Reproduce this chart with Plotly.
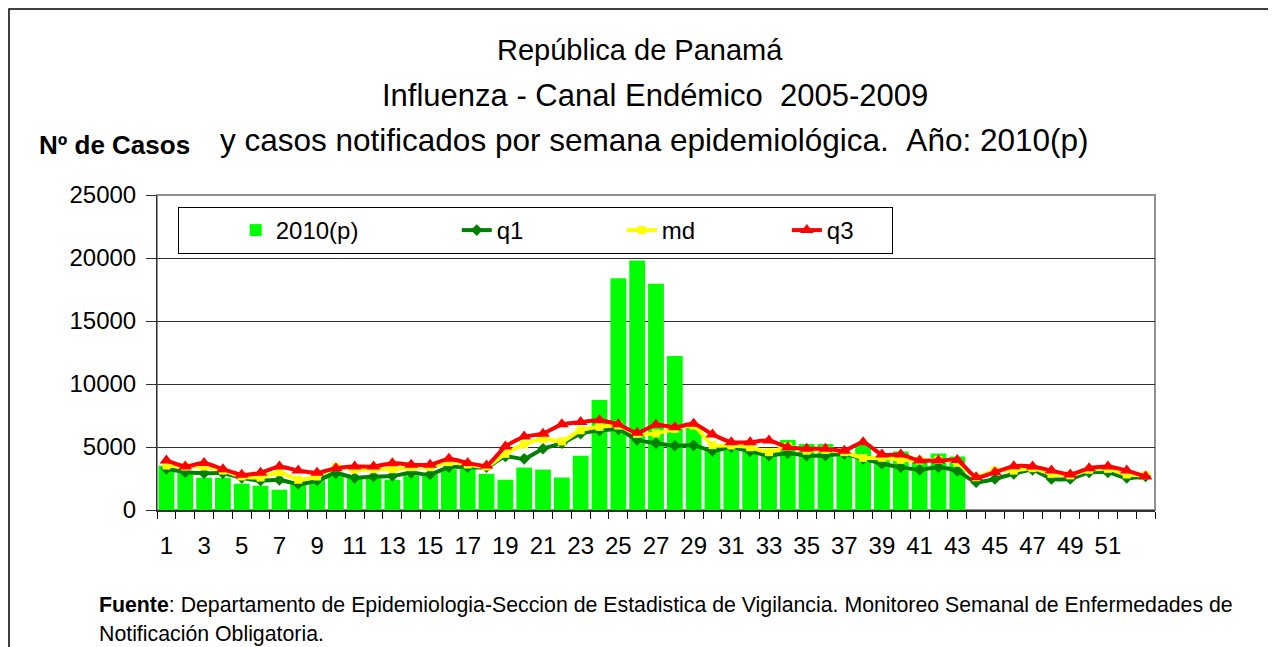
import plotly.graph_objects as go

# ---------------- data ----------------
semanas = list(range(1, 54))
tick_semanas = semanas[0:51:2]          # 1, 3, ..., 51
tick_textos = [str(s) for s in tick_semanas]

casos_2010 = [3520, 3100, 2560, 2560, 2090, 1930, 1610, 2150, 2450, 2980,
              2600, 2600, 2400, 2740, 2850, 3240, 3320, 2870, 2400, 3370,
              3210, 2580, 4300, 8740, 18400, 19800, 17950, 12220, 6600, 4800,
              5000, 4800, 4700, 5560, 5240, 5240, 4600, 5240, 4140, 4640,
              3900, 4480, 4250]

q1 = [3270, 3000, 2920, 2920, 2550, 2340, 2390, 2080, 2340, 2920,
      2550, 2650, 2700, 2950, 2820, 3400, 3400, 3400, 4250, 4060,
      4860, 5300, 6050, 6300, 6400, 5560, 5300, 5100, 5130, 4700,
      4980, 4660, 4320, 4510, 4320, 4320, 4450, 4060, 3670, 3400,
      3190, 3400, 3100, 2210, 2470, 2870, 3190, 2470, 2470, 2990,
      2990, 2550, 2660]

md = [3530, 3450, 3450, 3130, 2660, 2580, 3000, 2400, 2660, 3400,
      3200, 3240, 3240, 3400, 3400, 3800, 3610, 3450, 4460, 5200,
      5650, 5440, 6330, 6600, 6700, 6040, 6080, 6430, 6700, 5150,
      5120, 4980, 4590, 5040, 4710, 4760, 4590, 4140, 4140, 3980,
      3930, 3980, 3750, 2600, 3130, 3130, 3320, 2870, 2750, 3190,
      3270, 2820, 2750]

q3 = [3930, 3450, 3740, 3240, 2790, 2950, 3450, 3130, 2950, 3320,
      3450, 3450, 3720, 3590, 3590, 4060, 3740, 3530, 5040, 5830,
      6050, 6800, 6980, 7120, 6800, 6130, 6770, 6560, 6840, 6000,
      5380, 5380, 5520, 4980, 4860, 4860, 4710, 5380, 4400, 4400,
      3930, 3930, 3960, 2600, 3000, 3480, 3450, 3130, 2820, 3320,
      3450, 3130, 2660]

nombres = ["2010(p)", "q1", "md", "q3"]

# ---------------- layout helpers ----------------
W, H = 1276, 647
OFF = 8                       # page body margin of the browser
PL, PT, PW, PH = 157, 195, 998, 315   # plot area in screen pixels
FONT = "Liberation Sans, Arial, sans-serif"
NB = "\u00a0"


def px(x):
    return (x - PL) / PW


def py(y):
    return (PT + PH - y) / PH


# legend spacing (non-breaking spaces after each name)
pads = [14, 14, 13, 5]
leg_names = [n + NB * p for n, p in zip(nombres, pads)]

fig = go.Figure()

fig.add_trace(go.Bar(
    x=semanas[:len(casos_2010)], y=casos_2010, name=leg_names[0],
    marker=dict(color="#00FF00", line=dict(width=0)),
))
fig.add_trace(go.Scatter(
    x=semanas, y=q1, name=leg_names[1], mode="lines+markers",
    line=dict(color="#008000", width=4, shape="spline", smoothing=0.6),
    marker=dict(symbol="diamond", size=9, color="#008000"),
))
fig.add_trace(go.Scatter(
    x=semanas, y=md, name=leg_names[2], mode="lines+markers",
    line=dict(color="#FFFF00", width=4, shape="spline", smoothing=0.6),
    marker=dict(symbol="square", size=8, color="#FFFF00"),
))
fig.add_trace(go.Scatter(
    x=semanas, y=q3, name=leg_names[3], mode="lines+markers",
    line=dict(color="#FF0000", width=4, shape="spline", smoothing=0.6),
    marker=dict(symbol="triangle-up", size=12, color="#FF0000"),
))

annotations = [
    dict(text="República de Panamá", x=px(640), y=py(50), xanchor="center",
         yanchor="middle", font=dict(size=29, color="black", family=FONT)),
    dict(text="Influenza - Canal Endémico" + NB * 2 + "2005-2009", x=px(655), y=py(95),
         xanchor="center", yanchor="middle",
         font=dict(size=31, color="black", family=FONT)),
    dict(text="y casos notificados por semana epidemiológica." + NB * 2 + "Año: 2010(p)",
         x=px(654), y=py(140), xanchor="center", yanchor="middle",
         font=dict(size=31.5, color="black", family=FONT)),
    dict(text="<b>Nº de Casos</b>", x=px(37), y=py(145), xanchor="left",
         yanchor="middle", font=dict(size=26, color="black", family=FONT)),
    dict(text="<b>Fuente</b>: Departamento de Epidemiologia-Seccion de Estadistica de "
              "Vigilancia. Monitoreo Semanal de Enfermedades de",
         x=px(97), y=py(605), xanchor="left", yanchor="middle",
         font=dict(size=21.3, color="black", family=FONT)),
    dict(text="Notificación Obligatoria.", x=px(97), y=py(634), xanchor="left",
         yanchor="middle", font=dict(size=21.3, color="black", family=FONT)),
]
for a in annotations:
    a.update(xref="paper", yref="paper", showarrow=False)

shapes = [
    # outer frame (only top and left edges are visible in the window)
    dict(type="rect", xref="paper", yref="paper", x0=px(9), x1=px(1400),
         y0=py(800), y1=py(9), line=dict(color="black", width=1.5),
         fillcolor="rgba(0,0,0,0)", layer="below"),
    # plot area border (top/right)
    dict(type="rect", xref="paper", yref="paper", x0=0, x1=1, y0=0, y1=1,
         line=dict(color="#909090", width=2), fillcolor="rgba(0,0,0,0)",
         layer="below"),
]

fig.update_layout(
    width=W, height=H,
    margin=dict(l=PL - OFF, r=W - (PL - OFF) - PW, t=PT - OFF,
                b=H - (PT - OFF) - PH, pad=0),
    paper_bgcolor="white", plot_bgcolor="white",
    font=dict(family=FONT, color="black"),
    bargap=0.16,
    showlegend=True,
    legend=dict(
        orientation="h", x=px(178), y=py(207), xanchor="left", yanchor="top",
        bgcolor="white", bordercolor="black", borderwidth=1,
        font=dict(size=24, family=FONT, color="black"),
        itemwidth=30, traceorder="normal",
        title=dict(text=NB * 7, side="left", font=dict(size=24, family=FONT)),
    ),
    annotations=annotations,
    shapes=shapes,
    xaxis=dict(
        range=[0.5, len(semanas) + 0.5],
        tickmode="array", tickvals=tick_semanas, ticktext=tick_textos,
        ticks="outside", ticklen=7, tickcolor="rgba(0,0,0,0)",
        tickfont=dict(size=24, family=FONT, color="black"),
        ticklabelstandoff=6,
        showgrid=False, zeroline=False,
        showline=True, linecolor="#303030", linewidth=2,
        minor=dict(tickmode="linear", tick0=0.5, dtick=1, ticks="outside",
                   ticklen=7, tickcolor="black", tickwidth=1, showgrid=False),
    ),
    yaxis=dict(
        range=[0, 25000], tickmode="linear", tick0=0, dtick=5000,
        tickformat="d",
        ticks="outside", ticklen=10, tickcolor="#303030", tickwidth=1,
        tickfont=dict(size=24, family=FONT, color="black"),
        ticklabelstandoff=5,
        showgrid=True, gridcolor="#303030", gridwidth=1,
        zeroline=False, showline=True, linecolor="#303030", linewidth=1,
    ),
)

fig.write_html("out.html")
